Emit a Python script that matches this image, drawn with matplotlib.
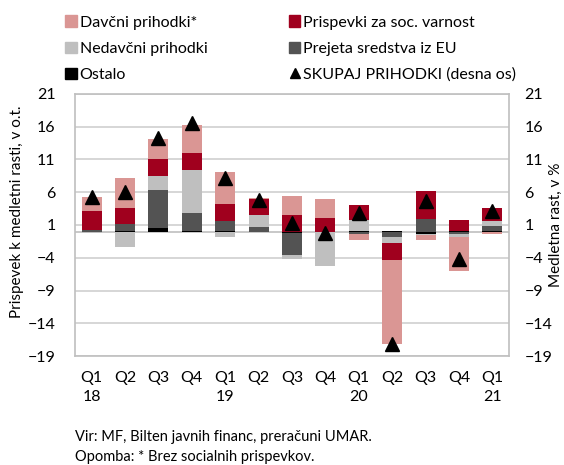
import matplotlib.pyplot as plt
import numpy as np
from matplotlib.lines import Line2D
from matplotlib.patches import Patch

plt.rcParams['font.family'] = ['Lato', 'DejaVu Sans']

# ---- podatki ----
kvartali = ['Q1\n18', 'Q2', 'Q3', 'Q4', 'Q1\n19', 'Q2', 'Q3', 'Q4',
            'Q1\n20', 'Q2', 'Q3', 'Q4', 'Q1\n21']
davcni = [2.1, 4.6, 3.0, 4.2, 4.9, 0.15, 2.8, 2.9, -1.0, -12.8, -0.8, -5.15, -0.35]
prispevki = [2.9, 2.4, 2.6, 2.6, 2.5, 2.4, 2.6, 2.1, 2.4, -2.6, 4.4, 1.7, 2.0]
nedavcni = [-0.15, -2.3, 2.2, 6.5, -0.9, 1.9, -0.65, -5.1, 1.6, -0.9, -0.15, -0.45, 0.65]
sredstva_eu = [0.25, 1.05, 5.8, 2.8, 1.6, 0.65, -3.3, -0.1, -0.35, -0.9, 1.85, -0.45, 0.85]
ostalo = [-0.1, 0.1, 0.5, 0.1, 0.05, -0.05, -0.25, 0.0, 0.12, 0.15, -0.35, 0.1, 0.05]
skupaj = [5.2, 6.0, 14.3, 16.6, 8.2, 4.8, 1.3, -0.2, 2.8, -17.1, 4.6, -4.2, 3.1]

barve = {'dav': '#DA9694', 'pri': '#A0001E', 'ned': '#BFBFBF', 'eu': '#535353', 'ost': '#000000'}

fig = plt.figure(figsize=(5.64, 4.65), dpi=100)
ax = fig.add_axes([75/564, 1 - 356/465, 434/564, 262/465])

x = np.arange(len(kvartali))
pos = np.zeros(len(x))
neg = np.zeros(len(x))
# vrstni red od nicle navzven
for vals, c in [(ostalo, barve['ost']), (sredstva_eu, barve['eu']), (nedavcni, barve['ned']),
                (prispevki, barve['pri']), (davcni, barve['dav'])]:
    v = np.array(vals)
    bot = np.where(v >= 0, pos, neg)
    ax.bar(x, v, 0.6, bottom=bot, color=c, zorder=3)
    pos = pos + np.where(v > 0, v, 0)
    neg = neg + np.where(v < 0, v, 0)

ticks = np.arange(-19, 22, 5)
ax.set_ylim(-19, 21)
ax.set_xlim(-0.5, len(x) - 0.5)
ax.set_yticks(ticks)
ax.set_xticks(x)
ax.set_xticklabels(kvartali, fontsize=11.5, linespacing=1.45)
ax.tick_params(axis='both', length=0, labelsize=11.5, colors='black')
ax.tick_params(axis='x', pad=11)
ax.tick_params(axis='y', pad=14)
ax.grid(axis='y', color='#D0D0D0', linewidth=1.2, zorder=0)
ax.axhline(0, color='#BFBFBF', linewidth=1.2, zorder=1)
for s in ax.spines.values():
    s.set_color('#BFBFBF')
    s.set_linewidth(1.2)
ax.set_ylabel('Prispevek k medletni rasti, v o.t.', fontsize=11)
ax.yaxis.set_label_coords(-0.117, 0.55)

ax2 = ax.twinx()
ax2.set_ylim(-19, 21)
ax2.set_yticks(ticks)
ax2.tick_params(axis='y', length=0, labelsize=11.5, pad=11)
for s in ax2.spines.values():
    s.set_visible(False)
ax2.plot(x, skupaj, linestyle='none', marker='^', color='black', markersize=10, zorder=5)
ax2.set_ylabel('Medletna rast, v %', fontsize=11)
ax2.yaxis.set_label_coords(1.093, 0.5)

handles = [Patch(color=barve['dav']), Patch(color=barve['ned']), Patch(color=barve['ost']),
           Patch(color=barve['pri']), Patch(color=barve['eu']),
           Line2D([], [], linestyle='none', marker='^', color='black', markersize=7)]
labels = ['Davčni prihodki*', 'Nedavčni prihodki', 'Ostalo',
          'Prispevki za soc. varnost', 'Prejeta sredstva iz EU', 'SKUPAJ PRIHODKI (desna os)']
fig.legend(handles, labels, ncol=2, loc='upper left', bbox_to_anchor=(51/564, 1 - 1/465),
           frameon=False, fontsize=11.5, handlelength=0.7, handleheight=0.7,
           handletextpad=0.2, columnspacing=5.1, labelspacing=0.75)

fig.text(75/564, 1 - 437/465, 'Vir: MF, Bilten javnih financ, preračuni UMAR.', fontsize=10.5, va='center')
fig.text(75/564, 1 - 457/465, 'Opomba: * Brez socialnih prispevkov.', fontsize=10.5, va='center')

fig.savefig('out.png', dpi=100)
